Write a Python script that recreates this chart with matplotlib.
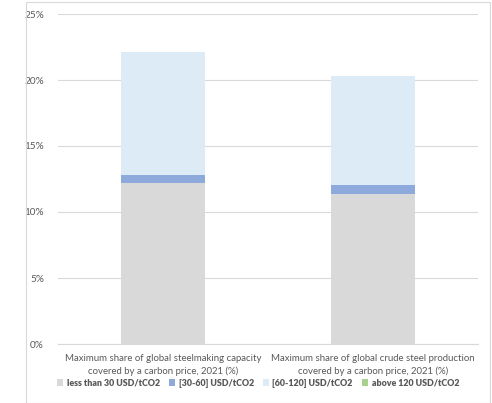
import numpy as np
import matplotlib.pyplot as plt
from matplotlib.patches import Rectangle

plt.rcParams['font.family'] = ['Lato', 'DejaVu Sans']

categories = ['Maximum share of global steelmaking capacity\ncovered by a carbon price, 2021 (%)',
              'Maximum share of global crude steel production\ncovered by a carbon price, 2021 (%)']
series_names = ['less than 30 USD/tCO2', '[30-60] USD/tCO2', '[60-120] USD/tCO2', 'above 120 USD/tCO2']
less_30 = [12.2, 11.4]
b30_60 = [0.6, 0.65]
b60_120 = [9.3, 8.25]
above_120 = [0.0, 0.0]
colors = ['#D9D9D9', '#8EA9DB', '#DDEBF7', '#A9D18E']

fig = plt.figure(figsize=(4.92, 4.03), dpi=100)
ax = fig.add_axes([58/492, 1 - 344/403, 420/492, 330/403])

# chart border like the spreadsheet frame
fig.patches.append(Rectangle((26/492, 0.0), 464/492, 0.995, transform=fig.transFigure,
                             fill=False, edgecolor='#D9D9D9', linewidth=0.8))

x = np.arange(len(categories))
bottom = np.zeros(len(categories))
for vals, name, c in zip([less_30, b30_60, b60_120, above_120], series_names, colors):
    ax.bar(x, vals, width=0.4, bottom=bottom, color=c, label=name, zorder=2)
    bottom += np.array(vals)

ax.set_xlim(-0.5, 1.5)
ax.set_ylim(0, 25)
ax.set_yticks(np.arange(0, 26, 5))
ax.set_yticklabels([f'{v}%' for v in range(0, 26, 5)], fontsize=7.2, color='#595959')
ax.yaxis.grid(True, color='#D9D9D9', linewidth=0.8, zorder=0)
ax.set_xticks(x)
ax.set_xticklabels(categories, fontsize=6.9, color='#595959', linespacing=1.45)
ax.tick_params(length=0, pad=10)
ax.tick_params(axis='x', pad=7)
for s in ['top', 'right', 'left']:
    ax.spines[s].set_visible(False)
ax.spines['bottom'].set_color('#D9D9D9')

leg = fig.legend(loc='center', bbox_to_anchor=(258/492, 1 - 383/403), ncol=4, frameon=False,
                 handlelength=0.7, handleheight=0.7, handletextpad=0.4,
                 columnspacing=1.0, prop={'weight': 'heavy', 'size': 6.4})
for t in leg.get_texts():
    t.set_color('#595959')

plt.savefig('out.png', dpi=100)
